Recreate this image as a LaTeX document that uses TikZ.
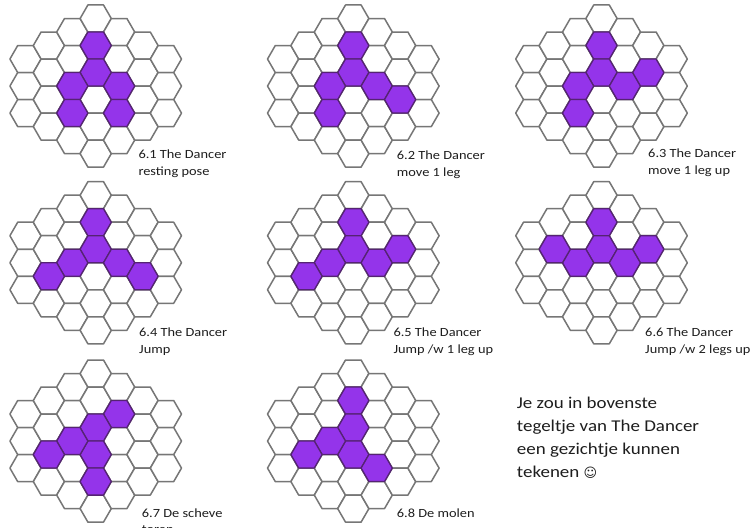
\documentclass[tikz,border=0pt]{standalone}
\usepackage{fontspec}
\setmainfont{Carlito}
\newfontfamily\lblfont[FakeStretch=1.15]{Carlito}
\newfontfamily\symfont{DejaVu Sans}
\definecolor{hexline}{RGB}{118,118,118}
\definecolor{hexfill}{RGB}{148,52,234}
\definecolor{hexedge}{RGB}{85,35,115}
\definecolor{txt}{RGB}{30,30,30}
\newcommand\hexR{15.6}
\newcommand\hexH{27.02}
\tikzset{
  hexw/.style={draw=hexline, fill=white, line width=1.5pt, line join=round},
  hexp/.style={draw=hexedge, fill=hexfill, line width=1.3pt, line join=round},
  lbl/.style={anchor=north west, inner sep=0pt, align=left, text=txt,
    font=\lblfont\fontsize{12.5}{16.8}\selectfont},
  note/.style={anchor=north west, inner sep=0pt, align=left, text=txt,
    font=\lblfont\fontsize{16.5}{22.8}\selectfont}
}
\newcommand\hexcell[3]{%
  \path[#3] ({#1},{#2}) +(0:\hexR) -- +(60:\hexR) -- +(120:\hexR) -- +(180:\hexR) -- +(240:\hexR) -- +(300:\hexR) -- cycle;}
\newcommand\hexgrid[3]{%
  \foreach \c in {-3,...,3}{%
    \pgfmathtruncatemacro\ua{abs(\c)+1}%
    \pgfmathtruncatemacro\ub{abs(\c)+3}%
    \pgfmathtruncatemacro\uz{11-abs(\c)}%
    \foreach \u in {\ua,\ub,...,\uz}{%
      \hexcell{#1+\c*1.5*\hexR}{#2+\u*\hexH/2}{hexw}%
    }%
  }%
  \foreach \c/\u in {#3}{%
    \hexcell{#1+\c*1.5*\hexR}{#2+\u*\hexH/2}{hexp}%
  }%
}
\begin{document}
\begin{tikzpicture}[x=1pt,y=-1pt]
\useasboundingbox (0,0) rectangle (751,527);
\fill[white] (0,0) rectangle (751,527);
\hexgrid{95.7}{5}{0/3,0/5,-1/6,-1/8,1/6,1/8}
\hexgrid{353.3}{5}{0/3,0/5,-1/6,-1/8,1/6,2/7}
\hexgrid{601.5}{5}{0/3,0/5,-1/6,-1/8,1/6,2/5}
\hexgrid{95.7}{181.7}{0/3,0/5,-1/6,-2/7,1/6,2/7}
\hexgrid{353.3}{181.7}{0/3,0/5,-1/6,-2/7,1/6,2/5}
\hexgrid{601.5}{181.7}{0/3,0/5,-1/6,-2/5,1/6,2/5}
\hexgrid{95.7}{360}{1/4,0/5,0/7,0/9,-1/6,-2/7}
\hexgrid{353.3}{360}{0/3,0/5,0/7,-1/6,-2/7,1/8}
\node[lbl] (l1) at (138.3,150) {6.1 The Dancer\\resting pose};
\node[lbl] (l2) at (396.7,151) {6.2 The Dancer\\move 1 leg};
\node[lbl] (l3) at (648,149) {6.3 The Dancer\\move 1 leg up};
\node[lbl] (l4) at (139,327.5) {6.4 The Dancer\\Jump};
\node[lbl] (l5) at (393.3,328) {6.5 The Dancer\\Jump /w 1 leg up};
\node[lbl] (l6) at (645,327.5) {6.6 The Dancer\\Jump /w 2 legs up};
\node[lbl] (l7) at (141.7,508.3) {6.7 De scheve\\toren};
\node[lbl] (l8) at (396.7,509) {6.8 De molen};
\node[note] (nt) at (516.7,397) {Je zou in bovenste\\tegeltje van The Dancer\\een gezichtje kunnen\\tekenen {\symfont\fontsize{13}{13}\selectfont ☺}};
\end{tikzpicture}
\end{document}
